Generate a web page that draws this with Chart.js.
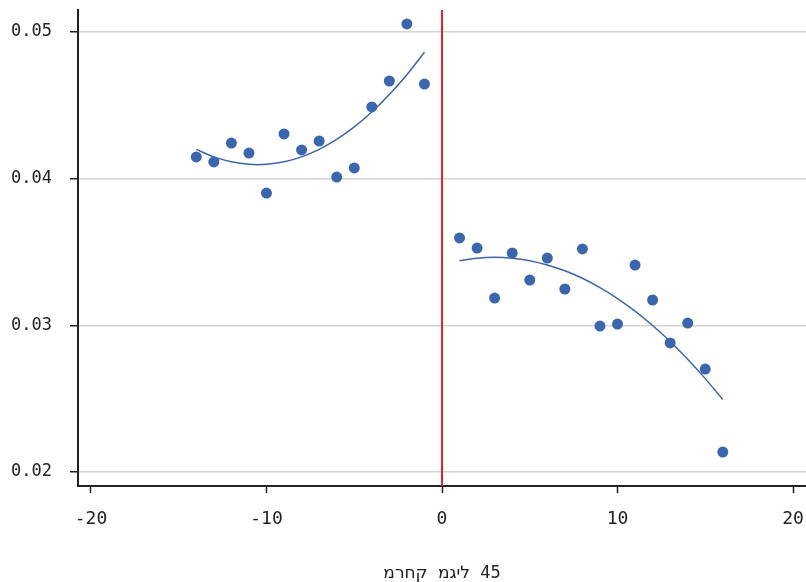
<!DOCTYPE html>
<html>
<head>
<meta charset="utf-8">
<script src="https://cdn.jsdelivr.net/npm/chart.js@4"></script>
<style>
  html, body { margin: 0; padding: 0; background: #fff; }
  #grafica { display: block; }
</style>
</head>
<body>
<canvas id="grafica" width="806" height="582"></canvas>
<script>
// Datos
const xIzq = [-14, -13, -12, -11, -10, -9, -8, -7, -6, -5, -4, -3, -2, -1];
const yIzq = [0.04148, 0.04114, 0.04243, 0.04175, 0.03902, 0.04305, 0.04196, 0.04257, 0.04011, 0.04073, 0.04489, 0.04666, 0.05055, 0.04645];
const ajusteIzq = [0.04200, 0.04149, 0.04115, 0.04098, 0.04098, 0.04115, 0.04149, 0.04200, 0.04268, 0.04353, 0.04455, 0.04574, 0.04709, 0.04862];

const xDer = [1, 2, 3, 4, 5, 6, 7, 8, 9, 10, 11, 12, 13, 14, 15, 16];
const yDer = [0.03596, 0.03527, 0.03186, 0.03493, 0.03309, 0.03459, 0.03248, 0.03521, 0.02995, 0.03009, 0.03411, 0.03173, 0.02880, 0.03016, 0.02702, 0.02136];
const ajusteDer = [0.03441, 0.03458, 0.03464, 0.03458, 0.03441, 0.03412, 0.03372, 0.03321, 0.03257, 0.03183, 0.03097, 0.02999, 0.02890, 0.02769, 0.02637, 0.02494];

const corte = 0;
const ticksX = [-20, -10, 0, 10, 20];
const ticksY = [0.02, 0.03, 0.04, 0.05];
// el original muestra el texto en orden izquierda-a-derecha
const tituloX = '\u202D' + 'מרחק מגיל 45' + '\u202C';

const rangoX = [-20.74, 20.74];
const rangoY = [0.01905, 0.0515];

const azul = '#3a66b0';
const fuente = "'DejaVu Sans Mono', 'DejaVu Sans', monospace";

const aPuntos = (xs, ys) => xs.map((x, i) => ({ x: x, y: ys[i] }));

const puntos = aPuntos(xIzq, yIzq).concat(aPuntos(xDer, yDer));

new Chart(document.getElementById('grafica'), {
  type: 'scatter',
  data: {
    datasets: [
      {
        data: [{ x: corte, y: rangoY[0] }, { x: corte, y: rangoY[1] }],
        showLine: true, borderColor: '#e5222a', borderWidth: 2,
        pointRadius: 0, order: 3
      },
      {
        data: aPuntos(xIzq, ajusteIzq),
        showLine: true, borderColor: azul, borderWidth: 1.5,
        pointRadius: 0, tension: 0.4, order: 2
      },
      {
        data: aPuntos(xDer, ajusteDer),
        showLine: true, borderColor: azul, borderWidth: 1.5,
        pointRadius: 0, tension: 0.4, order: 2
      },
      {
        data: puntos,
        backgroundColor: azul, borderColor: azul, borderWidth: 0,
        pointRadius: 5.5, order: 1
      }
    ]
  },
  options: {
    responsive: false,
    animation: false,
    layout: { autoPadding: false, padding: { top: 10, right: 0, left: 0, bottom: 0 } },
    plugins: { legend: { display: false }, tooltip: { enabled: false } },
    scales: {
      x: {
        type: 'linear',
        min: rangoX[0], max: rangoX[1],
        afterBuildTicks: s => { s.ticks = ticksX.map(v => ({ value: v })); },
        afterFit: s => { s.height = 96; s.paddingLeft = 0; s.paddingRight = 0; },
        grid: { drawOnChartArea: false, drawTicks: true, tickLength: 7, tickColor: '#222', tickWidth: 1.5 },
        border: { color: '#222', width: 2 },
        ticks: {
          padding: 16, color: '#222', maxRotation: 0,
          font: { family: fuente, size: 18 },
          callback: v => String(v)
        },
        title: {
          display: true, text: tituloX, color: '#222',
          font: { family: fuente, size: 17 },
          padding: { top: 0, bottom: -2 }
        }
      },
      y: {
        type: 'linear',
        min: rangoY[0], max: rangoY[1],
        afterBuildTicks: s => { s.ticks = ticksY.map(v => ({ value: v })); },
        afterFit: s => { s.width = 78; s.paddingTop = 0; s.paddingBottom = 0; },
        grid: { color: '#d4d4d4', lineWidth: 1.5, drawTicks: true, tickLength: 8, tickColor: '#222', tickWidth: 1.5 },
        border: { color: '#222', width: 2 },
        ticks: {
          padding: 18, color: '#222',
          font: { family: fuente, size: 17 },
          callback: v => v.toFixed(2)
        }
      }
    }
  }
});
</script>
</body>
</html>
